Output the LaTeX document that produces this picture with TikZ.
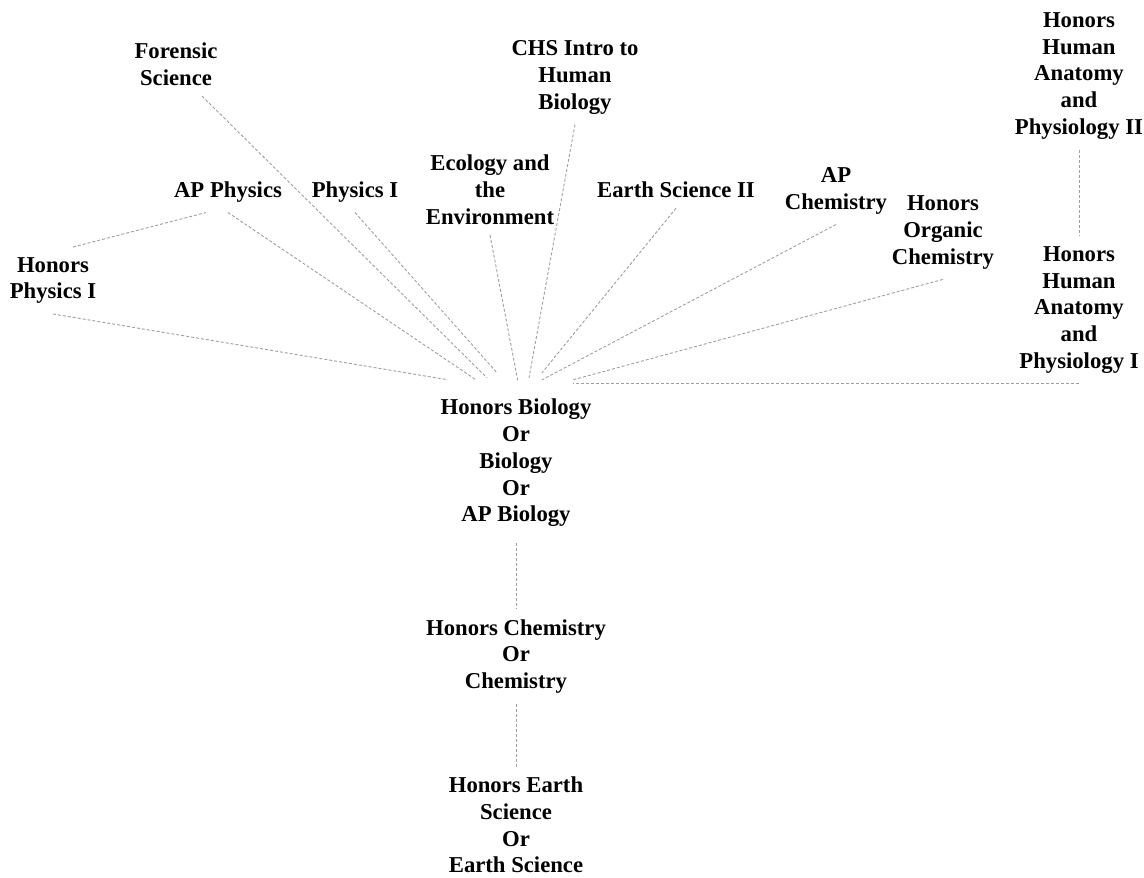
\documentclass[tikz,border=0pt]{standalone}
\usepackage{fontspec}
\setmainfont{Liberation Serif}
\begin{document}
\begin{tikzpicture}[x=1pt, y=-1pt,
    course/.style={align=center, font=\fontsize{22.7}{26.8}\selectfont\bfseries, inner sep=10pt},
    link/.style={gray!75, dash pattern=on 3pt off 2pt, line width=0.9pt}]
    \useasboundingbox (0,0) rectangle (1144,878);

    % Core sequence
    \node[course] (bio) at (516,463) {Honors Biology\\Or\\Biology\\Or\\AP Biology};
    \node[course] (chem) at (516,656.5) {Honors Chemistry\\Or\\Chemistry};
    \node[course] (earth) at (516,825) {Honors Earth\\Science\\Or\\Earth Science};
    \coordinate (port) at ([yshift=9pt]bio.north);

    % Electives
    \node[course] (forensic) at (176,64.5) {Forensic\\Science};
    \node[course] (chs) at (575,77.5) {CHS Intro to\\Human\\Biology};
    \node[course] (phys2) at (1079,76) {Honors\\Human\\Anatomy\\and\\Physiology II};
    \node[course] (apphys) at (228,192) {AP Physics};
    \node[course] (phys1) at (355,192) {Physics I};
    \node[course] (ecology) at (490,190) {Ecology and\\the\\Environment};
    \node[course] (earth2) at (676,190) {Earth Science II};
    \node[course] (apchem) at (836,191) {AP\\Chemistry};
    \node[course] (organic) at (943,232.5) {Honors\\Organic\\Chemistry};
    \node[course] (hphys) at (53,280.5) {Honors\\Physics I};
    \node[course] (anat1) at (1079,310) {Honors\\Human\\Anatomy\\and\\Physiology I};

    % Links into biology
    \draw[link] (hphys.south) -- ([xshift=-68pt]port);
    \draw[link] (apphys.south) -- ([xshift=-40pt]port);
    \draw[link] ([xshift=26pt]forensic.south) -- ([xshift=-29pt,yshift=2pt]port);
    \draw[link] (phys1.south) -- ([xshift=-19pt,yshift=7pt]port);
    \draw[link] (ecology.south) -- ([xshift=2pt,yshift=-2pt]port);
    \draw[link] (chs.south) -- ([xshift=13pt,yshift=2pt]port);
    \draw[link] (earth2.south) -- ([xshift=26pt,yshift=7pt]port);
    \draw[link] (apchem.south) -- ([xshift=26pt]port);
    \draw[link] (organic.south) -- ([xshift=57pt]port);
    \draw[link] (anat1.south) -- ([xshift=57pt]port |- anat1.south);

    % Other links
    \draw[link] ([xshift=20pt]hphys.north) -- ([xshift=-22pt]apphys.south);
    \draw[link] (phys2) -- (anat1);
    \draw[link, shorten <=6pt] (bio) -- (chem);
    \draw[link] (chem) -- (earth);
\end{tikzpicture}
\end{document}
